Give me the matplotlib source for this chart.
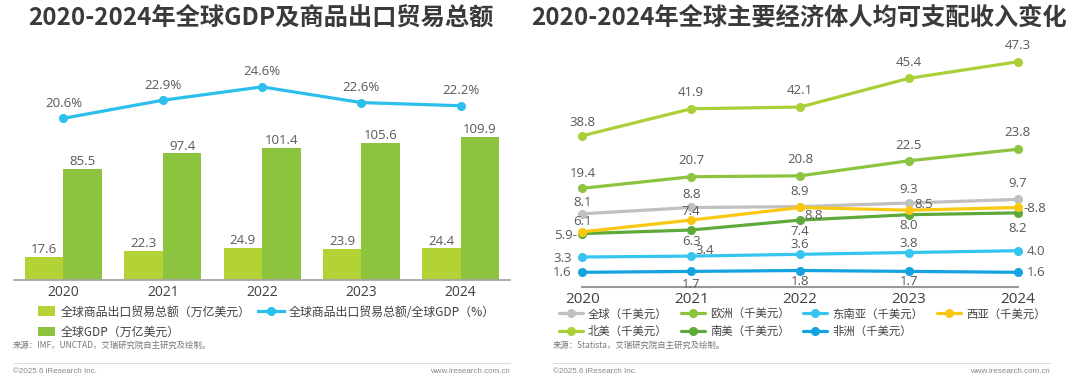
import numpy as np
import matplotlib
matplotlib.use('Agg')
import matplotlib.pyplot as plt
from matplotlib.lines import Line2D

# ---------------- data ----------------
years = ['2020', '2021', '2022', '2023', '2024']

# left chart
trade_total = [17.6, 22.3, 24.9, 23.9, 24.4]        # 万亿美元
gdp_total = [85.5, 97.4, 101.4, 105.6, 109.9]        # 万亿美元
trade_gdp_ratio = [20.6, 22.9, 24.6, 22.6, 22.2]     # %
left_names = ['全球商品出口贸易总额（万亿美元）', '全球GDP（万亿美元）',
              '全球商品出口贸易总额/全球GDP（%）']

# right chart (千美元)
income_global = [8.1, 8.8, 8.9, 9.3, 9.7]
income_europe = [19.4, 20.7, 20.8, 22.5, 23.8]
income_sea = [3.3, 3.4, 3.6, 3.8, 4.0]
income_west_asia = [6.1, 7.4, 8.8, 8.5, 8.8]
income_north_america = [38.8, 41.9, 42.1, 45.4, 47.3]
income_south_america = [5.9, 6.3, 7.4, 8.0, 8.2]
income_africa = [1.6, 1.7, 1.8, 1.7, 1.6]
right_names = ['全球（千美元）', '欧洲（千美元）', '东南亚（千美元）', '西亚（千美元）',
               '北美（千美元）', '南美（千美元）', '非洲（千美元）']

titles = ['2020-2024年全球GDP及商品出口贸易总额', '2020-2024年全球主要经济体人均可支配收入变化']
sources = ['来源：IMF，UNCTAD，艾瑞研究院自主研究及绘制。', '来源：Statista，艾瑞研究院自主研究及绘制。']

# ---------------- styles ----------------
CJK = ['Noto Sans CJK SC', 'DejaVu Sans']
NUM = ['Open Sans', 'Noto Sans CJK SC', 'DejaVu Sans']
LAT = ['Liberation Sans', 'DejaVu Sans']
plt.rcParams['font.family'] = CJK

C_LIGHT = '#B2D235'
C_DARK = '#8CC43F'
C_BLUE = '#2BBFEC'
C_LABEL = '#595959'

col = {
    '全球': '#C0C0C0', '欧洲': '#8CC43F', '东南亚': '#35C5EE', '西亚': '#FAC811',
    '北美': '#AACF37', '南美': '#5FA93A', '非洲': '#14A2E0',
}

W, H = 1080, 379
def fx(px):
    return px / W
def fy(py):
    return 1 - py / H

fig = plt.figure(figsize=(W / 100, H / 100), dpi=100)
fig.patch.set_facecolor('white')

# ---------------- titles ----------------
fig.text(fx(261), fy(18), titles[0], ha='center', va='center', fontsize=17.5,
         weight='bold', color='#3A3A3A', family=CJK)
fig.text(fx(799), fy(18), titles[1], ha='center', va='center', fontsize=17.5,
         weight='bold', color='#3A3A3A', family=CJK)

# ---------------- left chart ----------------
axL = fig.add_axes([fx(13.8), fy(280), 496.5 / W, 220 / H])
x = np.arange(len(years))
bw = 0.388
b1 = axL.bar(x - bw / 2, trade_total, bw, color=C_LIGHT, label=left_names[0])
b2 = axL.bar(x + bw / 2, gdp_total, bw, color=C_DARK, label=left_names[1])
axL.set_xlim(-0.5, 4.5)
axL.set_ylim(0, 220 / 1.3)
for s in ['top', 'right', 'left']:
    axL.spines[s].set_visible(False)
axL.spines['bottom'].set_color('#A6A6A6')
axL.spines['bottom'].set_linewidth(1.3)
axL.set_yticks([])
axL.set_xticks(x, years)
axL.tick_params(axis='x', length=0, pad=3.5, labelsize=10, labelcolor='#404040')
for lab in axL.get_xticklabels():
    lab.set_family(NUM)
for bars, vals in ((b1, trade_total), (b2, gdp_total)):
    axL.bar_label(bars, labels=[f'{v:.1f}' for v in vals], padding=0.5,
                  fontsize=9.5, color=C_LABEL, family=NUM)

axL2 = axL.twinx()
axL2.set_ylim(0, 220 / 7.85)
ln, = axL2.plot(x, trade_gdp_ratio, color=C_BLUE, lw=2.3, marker='o', ms=5.5,
                label=left_names[2], clip_on=False)
for s in axL2.spines.values():
    s.set_visible(False)
axL2.set_yticks([])
for xi, v in zip(x, trade_gdp_ratio):
    axL2.annotate(f'{v:.1f}%', (xi, v), xytext=(0, 15), textcoords='offset pixels',
                  ha='center', va='center', fontsize=9.5, color=C_LABEL, family=NUM)

# left legends
fig.legend(handles=[b1, b2], labels=left_names[:2], loc='upper left',
           bbox_to_anchor=(fx(37.9), fy(305.5)), frameon=False, borderpad=0,
           borderaxespad=0, handlelength=1.45, handleheight=0.88,
           handletextpad=0.42, labelspacing=0.59, prop={'family': CJK, 'size': 8.6},
           labelcolor='#404040')
fig.legend(handles=[ln], labels=[left_names[2]], loc='upper left',
           bbox_to_anchor=(fx(258), fy(305.5)), frameon=False, borderpad=0,
           borderaxespad=0, handlelength=2.18, handletextpad=0.42,
           prop={'family': CJK, 'size': 8.6}, labelcolor='#404040')

# ---------------- right chart ----------------
V_BRK = [0, 10, 19, 24, 38, 48]
H_BRK = [0, 90, 94.9, 139.2, 144.0, 231.0]

def fwd(v):
    return np.interp(v, V_BRK, H_BRK)

def inv(h):
    return np.interp(h, H_BRK, V_BRK)

axI = fig.add_axes([fx(582.4), fy(286.7), (1017.7 - 582.4) / W, 231 / H])
axI.set_yscale('function', functions=(fwd, inv))
axI.set_ylim(0, 48)
axI.set_xlim(0, 4)
for s in ['top', 'right', 'left']:
    axI.spines[s].set_visible(False)
axI.spines['bottom'].set_color('#999999')
axI.spines['bottom'].set_linewidth(1.5)
axI.set_yticks([])
axI.set_yticks([], minor=True)
axI.set_xticks(x, years)
axI.tick_params(axis='x', length=0, pad=4, labelsize=11, labelcolor='#404040')
for lab in axI.get_xticklabels():
    lab.set_family(NUM)

series = [
    ('全球', income_global, right_names[0]),
    ('欧洲', income_europe, right_names[1]),
    ('东南亚', income_sea, right_names[2]),
    ('北美', income_north_america, right_names[4]),
    ('南美', income_south_america, right_names[5]),
    ('非洲', income_africa, right_names[6]),
    ('西亚', income_west_asia, right_names[3]),
]

# label offsets in pixels (dx, dy)
offsets = {
    '全球': [(0, 11.4), (0, 13.1), (0, 15.5), (0, 13.8), (0, 15.5)],
    '欧洲': [(0, 14.8), (0, 16.2), (0, 16.2), (0, 15.5), (0, 16.5)],
    '东南亚': [(-20, -1.4), (13.8, 5.9), (0, 9.3), (0, 8.5), (18.3, -0.7)],
    '北美': [(0, 13.5), (0, 16.5), (0, 16.5), (0, 16.2), (0, 16)],
    '南美': [(-16.5, -1.7), (0, -12), (0, -11.4), (0, -11), (0, -16)],
    '非洲': [(-20, -0.7), (0, -12.7), (0, -11.4), (0, -10.5), (18.3, -0.7)],
    '西亚': [(0, 10.3), (0, 9), (13.4, -7.9), (14.8, 5.2), (17.2, -1)],
}
fmt_extra = {('南美', 0): '{}-', ('西亚', 4): '-{}'}

handles = {}
for key, vals, name in series:
    h, = axI.plot(x, vals, color=col[key], lw=2.3, marker='o', ms=5.5,
                  clip_on=False, label=name, solid_capstyle='round')
    handles[key] = h
    for i, (xi, v) in enumerate(zip(x, vals)):
        dx, dy = offsets[key][i]
        txt = fmt_extra.get((key, i), '{}').format(f'{v:.1f}')
        axI.annotate(txt, (xi, v), xytext=(dx, dy), textcoords='offset pixels',
                     ha='center', va='center', fontsize=9.5, color=C_LABEL,
                     family=NUM, annotation_clip=False)

order = ['全球', '北美', '欧洲', '南美', '东南亚', '非洲', '西亚']
name_of = {k: n for k, _, n in series}
fig.legend(handles=[handles[k] for k in order], labels=[name_of[k] for k in order],
           ncol=4, loc='upper left', bbox_to_anchor=(fx(558.9), fy(308.3)),
           frameon=False, borderpad=0, borderaxespad=0, handlelength=2.1,
           handletextpad=0.46, columnspacing=1.18, labelspacing=0.58,
           prop={'family': CJK, 'size': 8.2}, labelcolor='#404040')

# ---------------- footers ----------------
for x0, x1, src in ((13, 509.7, sources[0]), (553, 1049.7, sources[1])):
    fig.text(fx(x0), fy(345.5), src, ha='left', va='center', fontsize=6,
             color='#777777', family=CJK)
    fig.add_artist(Line2D([fx(x0), fx(x1)], [fy(363), fy(363)], color='#DDDDDD', lw=0.8))
    fig.text(fx(x0), fy(371.5), '©2025.6 iResearch Inc.', ha='left', va='center',
             fontsize=5.8, color='#888888', family=LAT)
    fig.text(fx(x1), fy(371.5), 'www.iresearch.com.cn', ha='right', va='center',
             fontsize=5.8, color='#888888', family=LAT)

fig.savefig('out.png', dpi=100, facecolor='white')
